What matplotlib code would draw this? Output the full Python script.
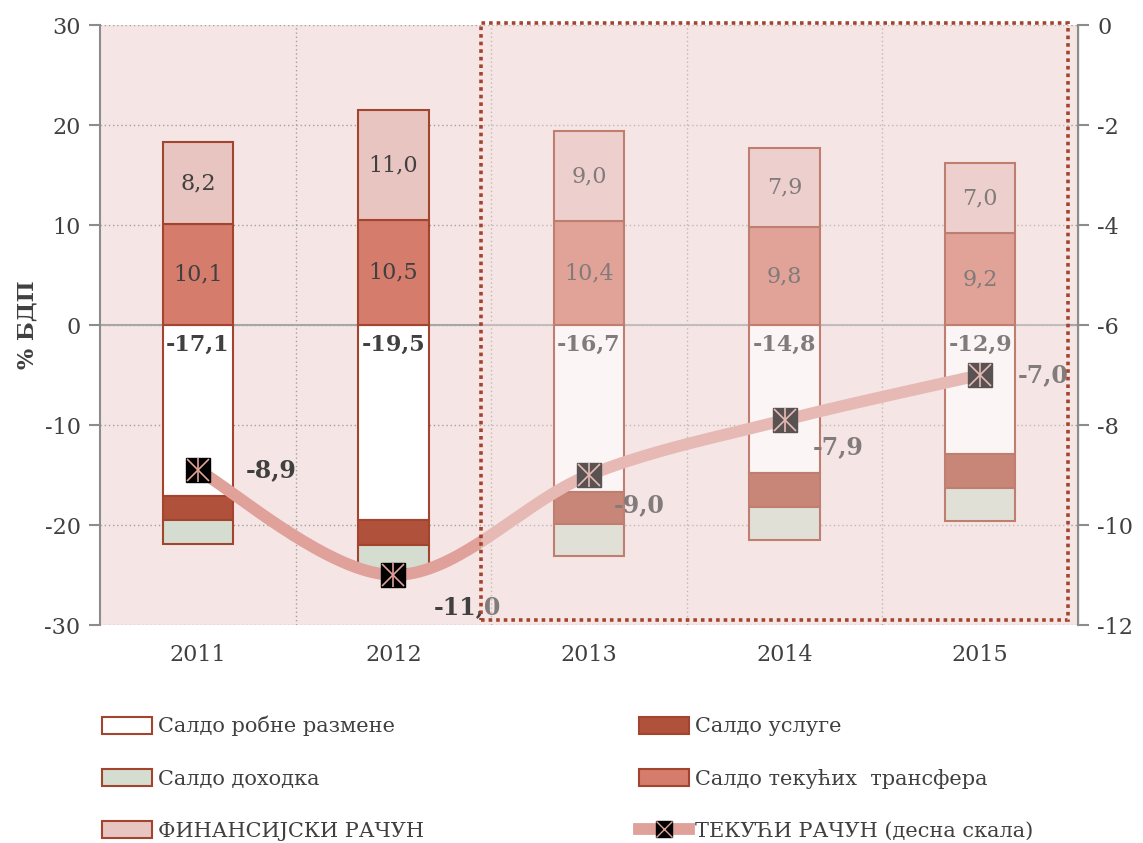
import numpy as np
import matplotlib
matplotlib.use('Agg')
from matplotlib import pyplot as plt
from matplotlib.patches import Rectangle, Patch
from matplotlib.lines import Line2D
import matplotlib.transforms as mtransforms

plt.rcParams['font.family'] = ['DejaVu Serif']
plt.rcParams['axes.unicode_minus'] = False

years = ['2011', '2012', '2013', '2014', '2015']
goods = [-17.1, -19.5, -16.7, -14.8, -12.9]
services = [-2.4, -2.5, -3.2, -3.4, -3.4]
income = [-2.4, -2.4, -3.2, -3.3, -3.3]
transfers = [10.1, 10.5, 10.4, 9.8, 9.2]
financial = [8.2, 11.0, 9.0, 7.9, 7.0]
current_account = [-8.9, -11.0, -9.0, -7.9, -7.0]

# label offsets for the line labels (pixels)
label_offsets = [(73, 0), (74, -32), (50, -30), (54, -27), (63, 0)]

c_edge = '#A3442F'
c_goods = '#FFFFFF'
c_serv = '#B0513B'
c_inc = '#D5DDD0'
c_trans = '#D67C6C'
c_fin = '#E9C5C1'
c_line = '#DFA199'
c_bg = '#F5E6E5'
c_text = '#404040'

fig = plt.figure(figsize=(11.43, 8.43), dpi=100)
ax = fig.add_axes([100 / 1143, 1 - 625 / 843, 978 / 1143, 600 / 843])
ax.set_facecolor(c_bg)

x = np.arange(len(years))
w = 0.36
goods = np.array(goods)
services = np.array(services)
income = np.array(income)
transfers = np.array(transfers)
financial = np.array(financial)

kw = dict(width=w, edgecolor=c_edge, linewidth=1.5, zorder=3)
ax.bar(x, goods, color=c_goods, **kw)
ax.bar(x, services, bottom=goods, color=c_serv, **kw)
ax.bar(x, income, bottom=goods + services, color=c_inc, **kw)
ax.bar(x, transfers, color=c_trans, **kw)
ax.bar(x, financial, bottom=transfers, color=c_fin, **kw)

def fmt(v):
    return f'{v:.1f}'.replace('.', ',')

for i in range(len(x)):
    ax.text(x[i], transfers[i] / 2, fmt(transfers[i]),
            ha='center', va='center', fontsize=16, color=c_text, zorder=4)
    ax.text(x[i], transfers[i] + financial[i] / 2, fmt(financial[i]),
            ha='center', va='center', fontsize=16, color=c_text, zorder=4)
    ax.text(x[i], -0.9, fmt(goods[i]),
            ha='center', va='top', fontsize=16, color=c_text, fontweight='bold', zorder=4)

ax.set_xlim(-0.5, 4.5)
ax.set_ylim(-30, 30)
ax.set_yticks(range(-30, 31, 10))
ax.set_xticks(x)
ax.set_xticklabels(years)
ax.tick_params(axis='x', length=0, pad=14, labelsize=16, labelcolor=c_text)
ax.tick_params(axis='y', length=8, width=1.5, color='#8C8C8C', labelsize=16, labelcolor=c_text, pad=6)
ax.set_xticks(np.arange(0.5, 4.5, 1), minor=True)
ax.tick_params(axis='x', which='minor', length=0)
ax.grid(True, which='minor', axis='x', linestyle=(0, (1, 2)), color='#A0A0A0', linewidth=1.0, zorder=0)
ax.grid(True, which='major', axis='y', linestyle=(0, (1, 2)), color='#A0A0A0', linewidth=1.0, zorder=0)
ax.set_axisbelow(True)
ax.axhline(0, color='#A6A6A6', linewidth=1.5, zorder=2)
for s in ['top', 'bottom']:
    ax.spines[s].set_visible(False)
ax.spines['left'].set_color('#8C8C8C')
ax.spines['left'].set_linewidth(1.5)
ax.set_ylabel('% БДП', fontsize=16, fontweight='bold', color=c_text, labelpad=4)

ax2 = ax.twinx()
ax2.set_ylim(-12, 0)
ax2.set_yticks(range(-12, 1, 2))
ax2.tick_params(axis='y', length=8, width=1.5, color='#8C8C8C', labelsize=16, labelcolor=c_text, pad=6)
for s in ['top', 'bottom', 'left']:
    ax2.spines[s].set_visible(False)
ax2.spines['right'].set_color('#8C8C8C')
ax2.spines['right'].set_linewidth(1.5)

# smooth line like Excel (Bezier through points)
pts = np.column_stack([x, current_account]).astype(float)
ext = np.vstack([pts[0], pts, pts[-1]])
curve = []
t = np.linspace(0, 1, 40)
for i in range(len(pts) - 1):
    p0, p3 = ext[i + 1], ext[i + 2]
    p1 = p0 + (ext[i + 2] - ext[i]) / 6
    p2 = p3 - (ext[i + 3] - ext[i + 1]) / 6
    seg = ((1 - t) ** 3)[:, None] * p0 + (3 * (1 - t) ** 2 * t)[:, None] * p1 \
        + (3 * (1 - t) * t ** 2)[:, None] * p2 + (t ** 3)[:, None] * p3
    curve.append(seg)
curve = np.vstack(curve)
ax2.plot(curve[:, 0], curve[:, 1], color=c_line, linewidth=8.5, solid_capstyle='round', zorder=5)
ax2.plot(x, current_account, linestyle='none', marker='s', markersize=17,
         markerfacecolor='black', markeredgecolor='black', zorder=6)
ax2.plot(x, current_account, linestyle='none', marker='x', markersize=16,
         markeredgecolor=c_line, markeredgewidth=1.2, zorder=7)
ax2.plot(x, current_account, linestyle='none', marker='|', markersize=17,
         markeredgecolor=c_line, markeredgewidth=1.2, zorder=7)
for i in range(len(x)):
    ax2.annotate(fmt(current_account[i]), (x[i], current_account[i]),
                 xytext=(label_offsets[i][0] * 0.72, label_offsets[i][1] * 0.72),
                 textcoords='offset points', ha='center', va='center',
                 fontsize=17, fontweight='bold', color=c_text, zorder=8)

# forecast overlay
trans = mtransforms.blended_transform_factory(ax2.transData, ax2.transAxes)
ax2.add_patch(Rectangle((1.45, 0.008), 3.0, 0.995, transform=trans, facecolor=c_bg,
                        alpha=0.36, edgecolor='none', zorder=20, clip_on=False))
ax2.add_patch(Rectangle((1.45, 0.008), 3.0, 0.995, transform=trans, facecolor='none',
                        edgecolor='#A3442F', linewidth=2.6, linestyle=(0, (1, 1.1)),
                        zorder=21, clip_on=False))

h_goods = Patch(facecolor=c_goods, edgecolor=c_edge, linewidth=1.5)
h_serv = Patch(facecolor=c_serv, edgecolor=c_edge, linewidth=1.5)
h_inc = Patch(facecolor=c_inc, edgecolor=c_edge, linewidth=1.5)
h_trans = Patch(facecolor=c_trans, edgecolor=c_edge, linewidth=1.5)
h_fin = Patch(facecolor=c_fin, edgecolor=c_edge, linewidth=1.5)
h_line = (Line2D([0], [0], color=c_line, linewidth=8.5, marker='s', markersize=12,
                 markerfacecolor='black', markeredgecolor='black'),
          Line2D([0], [0], linestyle='none', marker='x', markersize=11,
                 markeredgecolor=c_line, markeredgewidth=1.0))
# column-major order so rows read left to right
handles = [h_goods, h_inc, h_fin, h_serv, h_trans, h_line]
labels = ['Салдо робне размене', 'Салдо доходка', 'ФИНАНСИЈСКИ РАЧУН',
          'Салдо услуге', 'Салдо текућих  трансфера', 'ТЕКУЋИ РАЧУН (десна скала)']
fig.legend(handles, labels, loc='upper left', bbox_to_anchor=(102 / 1143, 1 - 716 / 843),
           ncol=2, frameon=False, fontsize=15, labelcolor=c_text, handlelength=2.4,
           handleheight=0.9, handletextpad=0.3, columnspacing=10.3, labelspacing=1.55,
           borderaxespad=0, borderpad=0)

fig.savefig('out.png', dpi=100)
